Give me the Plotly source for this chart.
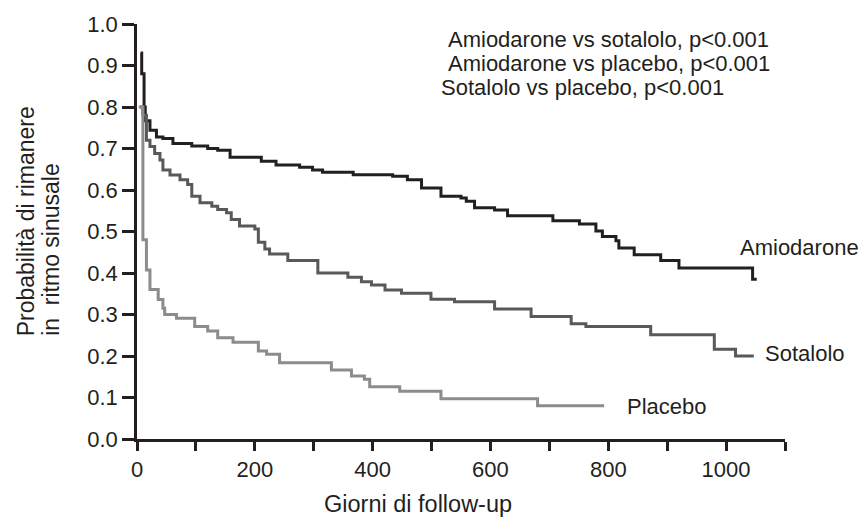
import plotly.graph_objects as go

# ---- data ----
amio_days = [6, 8, 12, 14, 22, 33, 44, 61, 93, 120, 137, 158, 211, 236, 276, 298, 315, 367, 434, 459, 483,
             516, 550, 559, 573, 607, 629, 706, 751, 779, 790, 813, 818, 844, 889, 920, 1045, 1052]
amio_surv = [0.93, 0.88, 0.80, 0.767, 0.744, 0.728, 0.724, 0.712, 0.706, 0.70, 0.696, 0.679, 0.669, 0.66, 0.655,
             0.648, 0.643, 0.637, 0.633, 0.625, 0.605, 0.585, 0.581, 0.573, 0.557, 0.552, 0.538, 0.526, 0.518,
             0.501, 0.488, 0.478, 0.46, 0.444, 0.43, 0.412, 0.385, 0.385]

sota_days = [5, 10, 16, 22, 30, 39, 44, 56, 73, 86, 93, 107, 127, 137, 152, 160, 174, 200, 206, 217, 225, 256,
             307, 358, 381, 398, 421, 449, 499, 539, 607, 669, 737, 762, 872, 980, 1016, 1047]
sota_surv = [0.80, 0.78, 0.72, 0.705, 0.688, 0.672, 0.648, 0.636, 0.625, 0.613, 0.585, 0.569, 0.561, 0.553, 0.545,
             0.529, 0.513, 0.506, 0.474, 0.458, 0.446, 0.43, 0.40, 0.39, 0.379, 0.371, 0.359, 0.351, 0.337, 0.331,
             0.313, 0.295, 0.278, 0.271, 0.251, 0.216, 0.20, 0.20]

plac_days = [3, 10, 16, 22, 36, 44, 47, 67, 98, 120, 137, 163, 206, 220, 242, 330, 364, 386, 395, 446, 516, 680, 793]
plac_surv = [0.80, 0.48, 0.407, 0.36, 0.336, 0.315, 0.30, 0.291, 0.271, 0.26, 0.244, 0.233, 0.212, 0.204, 0.184,
             0.166, 0.152, 0.144, 0.126, 0.115, 0.097, 0.08, 0.08]

x_tickvals = [0, 100, 200, 300, 400, 500, 600, 700, 800, 900, 1000, 1100]
x_ticktext = ["0", "", "200", "", "400", "", "600", "", "800", "", "1000", ""]
y_tickvals = [0.0, 0.1, 0.2, 0.3, 0.4, 0.5, 0.6, 0.7, 0.8, 0.9, 1.0]
y_ticktext = ["0.0", "0.1", "0.2", "0.3", "0.4", "0.5", "0.6", "0.7", "0.8", "0.9", "1.0"]

series_names = ["Amiodarone", "Sotalolo", "Placebo"]
pvalue_lines = ["Amiodarone vs sotalolo, p<0.001",
                "Amiodarone vs placebo, p<0.001",
                "Sotalolo vs placebo, p<0.001"]

# ---- style ----
FONT = "Liberation Sans, Arial, Helvetica, sans-serif"
INK = "#231f20"
colors = ["#231f20", "#58595b", "#8c8c8e"]

fig = go.Figure()
for name, d, s, c in zip(series_names, [amio_days, sota_days, plac_days],
                         [amio_surv, sota_surv, plac_surv], colors):
    fig.add_trace(go.Scatter(x=d, y=s, mode="lines", name=name,
                             line=dict(color=c, width=3, shape="hv"),
                             showlegend=False, hoverinfo="skip"))

fig.update_layout(
    width=864, height=520,
    margin=dict(l=137, r=79, t=18, b=81),
    paper_bgcolor="white", plot_bgcolor="white",
    font=dict(family=FONT, color=INK, size=22),
    showlegend=False,
)
fig.update_xaxes(range=[0, 1100], tickvals=x_tickvals, ticktext=x_ticktext,
                 showline=True, linecolor=INK, linewidth=2.5, mirror=False,
                 ticks="outside", ticklen=9, tickwidth=2.5, tickcolor=INK,
                 showgrid=False, zeroline=False, tickfont=dict(size=22, color=INK))
fig.update_yaxes(range=[0, 1.0], tickvals=y_tickvals, ticktext=y_ticktext,
                 showline=True, linecolor=INK, linewidth=2.5, mirror=False,
                 ticks="outside", ticklen=12, tickwidth=2.5, tickcolor=INK,
                 showgrid=False, zeroline=False, tickfont=dict(size=22, color=INK))

ann = []
# curve labels
label_pos = [(1021, 0.462), (1063, 0.205), (829, 0.079)]
for name, (lx, ly) in zip(series_names, label_pos):
    ann.append(dict(x=lx, y=ly, xref="x", yref="y", text=name, showarrow=False,
                    xanchor="left", yanchor="middle", font=dict(size=22, color=INK)))
# p-value text
p_pos = [(527, 0.962), (527, 0.905), (515, 0.848)]
for t, (px, py) in zip(pvalue_lines, p_pos):
    ann.append(dict(x=px, y=py, xref="x", yref="y", text=t, showarrow=False,
                    xanchor="left", yanchor="middle", borderpad=0,
                    font=dict(size=22, color=INK)))
# axis titles
ann.append(dict(x=(418 - 137) / 648, y=-(505 - 439) / 420.5, xref="paper", yref="paper",
                text="Giorni di follow-up", showarrow=False, xanchor="center", yanchor="middle",
                font=dict(size=23.5, color=INK)))
ann.append(dict(x=(26 - 137) / 648, y=(439 - 337) / 420.5, xref="paper", yref="paper",
                text="Probabilità di rimanere", textangle=-90, showarrow=False,
                xanchor="center", yanchor="bottom", font=dict(size=23, color=INK)))
ann.append(dict(x=(51 - 137) / 648, y=(439 - 337) / 420.5, xref="paper", yref="paper",
                text="in  ritmo sinusale", textangle=-90, showarrow=False,
                xanchor="center", yanchor="bottom", font=dict(size=23, color=INK)))
fig.update_layout(annotations=ann)

fig.write_html("out.html")
